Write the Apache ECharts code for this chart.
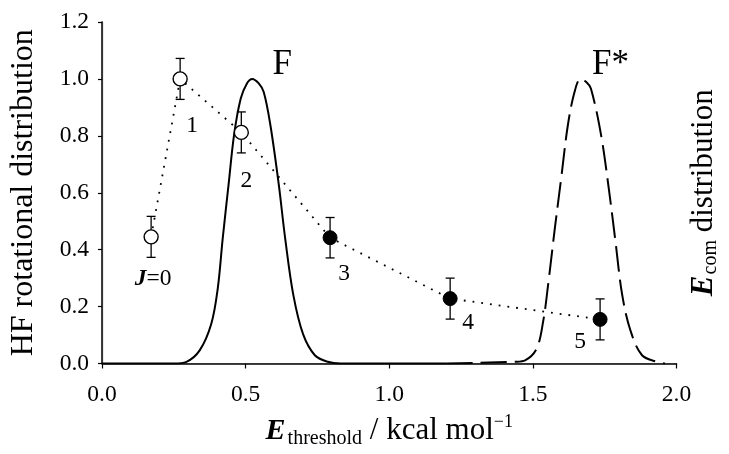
<!DOCTYPE html>
<html>
<head>
<meta charset="utf-8">
<script src="https://cdn.jsdelivr.net/npm/echarts@6/dist/echarts.min.js"></script>
<style>
  html, body { margin: 0; padding: 0; background: #fff; overflow: hidden; width: 729px; height: 454px; }
  #chart { width: 729px; height: 454px; display: block; }
</style>
</head>
<body>
<div id="chart"></div>
<script>
// HF rotational state populations versus threshold energy
const jLabels = ['J=0', '1', '2', '3', '4', '5'];
const eThreshold = [0.171, 0.272, 0.485, 0.794, 1.212, 1.734];
const rotPop = [0.445, 1.0, 0.812, 0.442, 0.228, 0.155];
const rotErr = [0.072, 0.072, 0.072, 0.071, 0.072, 0.072];
const openMarker = [true, true, true, false, false, false];

// Collision energy distribution for F
const fX = [0.0, 0.25, 0.294, 0.34, 0.38, 0.403, 0.42, 0.441, 0.46, 0.483, 0.505, 0.523,
            0.545, 0.563, 0.586, 0.615, 0.638, 0.666, 0.70, 0.741, 0.786, 0.83, 1.2];
const fY = [0.0, 0.0, 0.006, 0.046, 0.138, 0.264, 0.437, 0.632, 0.805, 0.931, 0.985, 1.0,
            0.985, 0.954, 0.839, 0.632, 0.437, 0.241, 0.103, 0.029, 0.006, 0.0, 0.0];

// Collision energy distribution for F*
const fsX = [1.2, 1.44, 1.473, 1.513, 1.536, 1.553, 1.576, 1.599, 1.622, 1.645, 1.666,
             1.685, 1.702, 1.737, 1.765, 1.788, 1.811, 1.84, 1.88, 1.931, 1.96];
const fsY = [0.0, 0.006, 0.011, 0.052, 0.149, 0.276, 0.471, 0.655, 0.839, 0.954, 1.0,
             0.99, 0.966, 0.805, 0.609, 0.425, 0.241, 0.115, 0.029, 0.006, 0.0];

const FONT = "'Liberation Serif', 'Times New Roman', serif";

function curveData(xs, ys, name) {
  const peak = ys.indexOf(Math.max(...ys));
  return xs.map((x, i) => {
    if (i !== peak) return { value: [x, ys[i]], label: { show: false } };
    return {
      value: [x, ys[i]],
      label: {
        show: true, formatter: name, position: 'inside', offset: [30, -14],
        fontFamily: FONT, fontSize: 35, color: '#000'
      }
    };
  });
}

// label placement around each marker (dx, dy in px)
const labelOffsets = [[2, 42], [12, 47], [5, 48], [14, 36], [18, 24], [-20, 22]];

const pointData = eThreshold.map((x, i) => ({
  value: [x, rotPop[i]],
  itemStyle: openMarker[i]
    ? { color: '#fff', borderColor: '#000', borderWidth: 1.4 }
    : { color: '#000', borderColor: '#000', borderWidth: 1 },
  label: {
    show: true, position: 'inside', offset: labelOffsets[i],
    formatter: jLabels[i].startsWith('J=') ? '{j|J}{t|=' + jLabels[i].slice(2) + '}' : jLabels[i],
    fontFamily: FONT, fontSize: 23.5, color: '#000',
    rich: {
      j: { fontFamily: FONT, fontSize: 23.5, fontStyle: 'italic', fontWeight: 'bold', color: '#000' },
      t: { fontFamily: FONT, fontSize: 23.5, color: '#000' }
    }
  }
}));

const errData = eThreshold.map((x, i) => [x, rotPop[i] - rotErr[i], rotPop[i] + rotErr[i]]);

const chart = echarts.init(document.getElementById('chart'), null, { renderer: 'canvas', width: 729, height: 454 });

chart.setOption({
  animation: false,
  backgroundColor: '#fff',
  grid: { left: 101, right: 46, top: 22, bottom: 84, containLabel: false },
  xAxis: [{
    type: 'value', min: 0, max: 2, interval: 0.5,
    axisLine: { show: true, onZero: false, lineStyle: { color: '#000', width: 1.5 } },
    axisTick: { show: true, inside: false, length: 5, lineStyle: { color: '#000', width: 1.2 } },
    axisLabel: {
      margin: 19, fontFamily: FONT, fontSize: 23.5, color: '#000',
      formatter: v => v.toFixed(1)
    },
    splitLine: { show: false },
    name: '{e|E}{sub|threshold}{n| / kcal mol}{sup|\u22121}',
    nameLocation: 'middle', nameGap: 52,
    nameTextStyle: {
      fontFamily: FONT, color: '#000',
      rich: {
        e: { fontFamily: FONT, fontSize: 30, fontStyle: 'italic', fontWeight: 'bold', color: '#000', lineHeight: 31 },
        sub: { fontFamily: FONT, fontSize: 20, color: '#000', lineHeight: 20, padding: [16, 0, 0, 2] },
        n: { fontFamily: FONT, fontSize: 31, color: '#000', lineHeight: 31 },
        sup: { fontFamily: FONT, fontSize: 18, color: '#000', lineHeight: 18, padding: [0, 0, 18, 0] }
      }
    }
  }, {
    type: 'value', min: 0, max: 2, position: 'top',
    axisLine: { show: true, lineStyle: { color: '#333', width: 1.2 } },
    axisTick: { show: false }, axisLabel: { show: false }, splitLine: { show: false }
  }],
  yAxis: [{
    type: 'value', min: 0, max: 1.2, interval: 0.2,
    axisLine: { show: true, onZero: false, lineStyle: { color: '#000', width: 1.5 } },
    axisTick: { show: true, inside: false, length: 4, lineStyle: { color: '#000', width: 1.2 } },
    axisLabel: {
      margin: 13, fontFamily: FONT, fontSize: 23.5, color: '#000',
      formatter: v => v.toFixed(1)
    },
    splitLine: { show: false },
    name: 'HF rotational distribution',
    nameLocation: 'middle', nameGap: 62, nameRotate: 90,
    nameTextStyle: { fontFamily: FONT, fontSize: 32, color: '#000' }
  }, {
    type: 'value', min: 0, max: 1.2, position: 'right',
    axisLine: { show: true, lineStyle: { color: '#333', width: 1.2 } },
    axisTick: { show: false }, axisLabel: { show: false }, splitLine: { show: false },
    name: '{e|E}{sub|com}{n| distribution}',
    nameLocation: 'middle', nameGap: 12, nameRotate: 90,
    nameTextStyle: {
      fontFamily: FONT, color: '#000',
      rich: {
        e: { fontFamily: FONT, fontSize: 31, fontStyle: 'italic', fontWeight: 'bold', color: '#000', lineHeight: 31 },
        sub: { fontFamily: FONT, fontSize: 20, color: '#000', lineHeight: 20, padding: [14, 0, 0, 1] },
        n: { fontFamily: FONT, fontSize: 31, color: '#000', lineHeight: 31 }
      }
    }
  }],
  series: [
    {
      name: 'F', type: 'line', xAxisIndex: 0, yAxisIndex: 0,
      data: curveData(fX, fY, 'F'),
      smooth: 0.35, showSymbol: true, showAllSymbol: true, symbol: 'circle', symbolSize: 1,
      itemStyle: { color: 'rgba(0,0,0,0)', borderWidth: 0 },
      lineStyle: { color: '#000', width: 2 }, z: 2
    },
    {
      name: 'F*', type: 'line', xAxisIndex: 0, yAxisIndex: 0,
      data: curveData(fsX, fsY, 'F*'),
      smooth: 0.35, showSymbol: true, showAllSymbol: true, symbol: 'circle', symbolSize: 1,
      itemStyle: { color: 'rgba(0,0,0,0)', borderWidth: 0 },
      lineStyle: { color: '#000', width: 2, type: [26, 8] }, z: 2
    },
    {
      name: 'error', type: 'custom', xAxisIndex: 0, yAxisIndex: 0,
      data: errData, z: 3,
      renderItem: (params, api) => {
        const lo = api.coord([api.value(0), api.value(1)]);
        const hi = api.coord([api.value(0), api.value(2)]);
        const cap = 4.5;
        const style = { stroke: '#000', lineWidth: 1.3 };
        return {
          type: 'group',
          children: [
            { type: 'line', shape: { x1: lo[0], y1: lo[1], x2: hi[0], y2: hi[1] }, style },
            { type: 'line', shape: { x1: lo[0] - cap, y1: lo[1], x2: lo[0] + cap, y2: lo[1] }, style },
            { type: 'line', shape: { x1: hi[0] - cap, y1: hi[1], x2: hi[0] + cap, y2: hi[1] }, style }
          ]
        };
      }
    },
    {
      name: 'HF(J)', type: 'line', xAxisIndex: 0, yAxisIndex: 0,
      data: pointData, z: 4,
      symbol: 'circle', symbolSize: 14, showSymbol: true,
      lineStyle: { color: '#000', width: 1.8, type: [1.8, 7] }
    }
  ]
});
</script>
</body>
</html>
